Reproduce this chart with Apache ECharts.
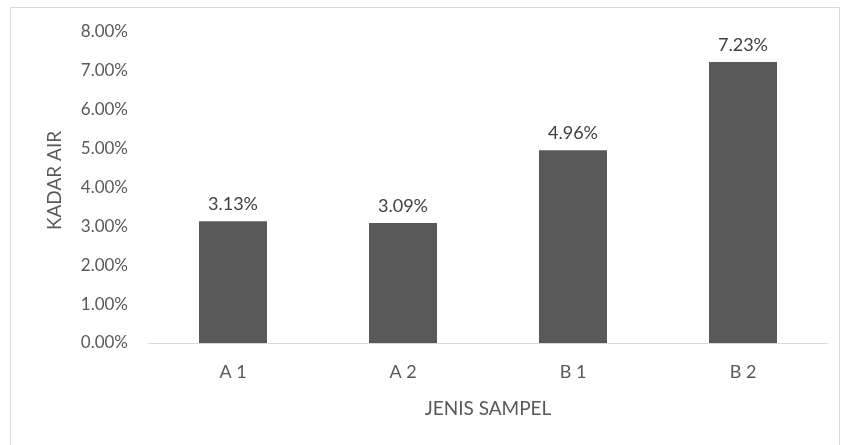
<!DOCTYPE html>
<html>
<head>
<meta charset="utf-8">
<script src="https://cdn.jsdelivr.net/npm/echarts@6/dist/echarts.min.js"></script>
<style>
  html, body { margin: 0; padding: 0; background: #fff; }
  #chart { width: 843px; height: 445px; }
</style>
</head>
<body>
<div id="chart"></div>
<script>
// Moisture content per sample type
const categories = ['A 1', 'A 2', 'B 1', 'B 2'];
const kadarAir = [3.13, 3.09, 4.96, 7.23];
const yMin = 0;
const yMax = 8;
const yStep = 1;

const textGray = '#595959';
const fontFamily = 'Lato, "Open Sans", sans-serif';

const chart = echarts.init(document.getElementById('chart'));
chart.setOption({
  animation: false,
  backgroundColor: '#fff',
  graphic: [{
    type: 'rect',
    shape: { x: 10.5, y: 7.5, width: 829, height: 460 },
    style: { fill: 'none', stroke: '#d9d9d9', lineWidth: 1 },
    silent: true
  }],
  grid: { left: 148, right: 15, top: 32, bottom: 102, containLabel: false },
  xAxis: {
    type: 'category',
    data: categories,
    name: 'JENIS SAMPEL',
    nameLocation: 'middle',
    nameGap: 56,
    nameTextStyle: { color: textGray, fontSize: 19, fontFamily: fontFamily, verticalAlign: 'top' },
    axisLine: { lineStyle: { color: '#d9d9d9', width: 1 } },
    axisTick: { show: false },
    axisLabel: { color: textGray, fontSize: 18, fontFamily: fontFamily, margin: 20 }
  },
  yAxis: {
    type: 'value',
    min: yMin,
    max: yMax,
    interval: yStep,
    name: 'KADAR AIR',
    nameLocation: 'middle',
    nameGap: 84,
    nameTextStyle: { color: textGray, fontSize: 19, fontFamily: fontFamily, padding: [0, 0, 0, 14] },
    axisLine: { show: false },
    axisTick: { show: false },
    splitLine: { show: false },
    axisLabel: {
      color: textGray,
      fontSize: 17,
      fontFamily: fontFamily,
      margin: 20,
      formatter: v => v.toFixed(2) + '%'
    }
  },
  series: [{
    type: 'bar',
    data: kadarAir,
    barWidth: '40%',
    itemStyle: { color: '#595959' },
    label: {
      show: true,
      position: 'top',
      distance: 8,
      color: '#404040',
      fontSize: 18,
      fontFamily: fontFamily,
      formatter: p => p.value.toFixed(2) + '%'
    }
  }]
});
</script>
</body>
</html>
